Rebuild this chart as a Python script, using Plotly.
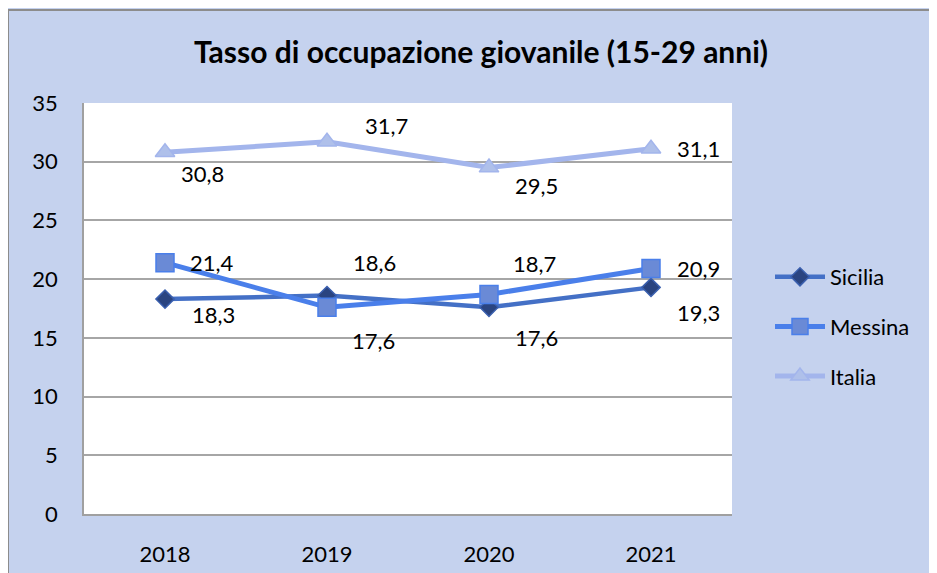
import plotly.graph_objects as go

years = ["2018", "2019", "2020", "2021"]
sicilia = [18.3, 18.6, 17.6, 19.3]
messina = [21.4, 17.6, 18.7, 20.9]
italia = [30.8, 31.7, 29.5, 31.1]
y_ticks = [0, 5, 10, 15, 20, 25, 30, 35]

def fmt(v):
    return f"{v:.1f}".replace(".", ",")

# label offsets in pixels (style)
offsets = {
    "Sicilia": [(48, -15), (47, 33), (47, -30), (47, -25)],
    "Messina": [(47, 0), (46, -33), (45, 31), (47, 0)],
    "Italia": [(37, -21), (59, 16), (47, -18), (47, 0)],
}

BG = "#C5D2EE"
FONT = "Lato"

series = [
    ("Sicilia", sicilia, "#4470C6", 4.5, "diamond", "#2A4480", "#3A5FAE", 14),
    ("Messina", messina, "#4A7FEA", 5, "square", "#6A8AD6", "#4A7FEA", 18),
    ("Italia", italia, "#A3B5EC", 5, "triangle-up", "#AFC0EA", "#A3B5EC", 17),
]

fig = go.Figure()
annotations = []
for i, (name, vals, lc, lw, sym, mfill, mline, msz) in enumerate(series):
    fig.add_trace(go.Scatter(
        x=years, y=vals, name=name, mode="lines+markers",
        line=dict(color=lc, width=lw),
        marker=dict(symbol=sym, size=msz, color=mfill, line=dict(color=mline, width=1.5)),
        legendgroup=name, cliponaxis=False,
    ))
    for j, v in enumerate(vals):
        dx, dy = offsets[name][j]
        annotations.append(dict(
            x=j, y=v, xref="x", yref="y", text=fmt(v), showarrow=False,
            xanchor="center", yanchor="middle",
            xshift=dx, yshift=dy, font=dict(family=FONT, size=22, color="#000000"),
        ))

# page body has an 8px margin; figure coords = screen - 8
L, R, T, B = 76, 213, 95, 67
W, H = 937, 573
pw, ph = W - L - R, H - T - B

shapes = [
    dict(type="rect", xref="paper", yref="paper", layer="above",
         x0=-L / pw, x1=(W + 10 - L) / pw,
         y0=-(B + 10) / ph, y1=(H - B - 2) / ph,
         fillcolor="rgba(0,0,0,0)", line=dict(color="#8C8C8C", width=2)),
]

fig.update_layout(
    width=W, height=H,
    margin=dict(l=L, r=R, t=T, b=B),
    paper_bgcolor=BG, plot_bgcolor="white",
    title=dict(text="<b>Tasso di occupazione giovanile (15-29 anni)</b>",
               x=473 / W, xanchor="center", y=1 - 44 / H, yanchor="middle",
               font=dict(family=FONT, size=30, color="#000000")),
    xaxis=dict(type="category", range=[-0.5, 3.5], showgrid=False,
               showline=True, linecolor="#A0A0A0", linewidth=2,
               ticks="", ticklabelstandoff=20,
               tickfont=dict(family=FONT, size=22, color="#000000")),
    yaxis=dict(range=[0, 35], tickvals=y_ticks, showgrid=True, gridcolor="#A6A6A6",
               gridwidth=2, zeroline=False, showline=True, linecolor="#A0A0A0",
               linewidth=1.5, ticks="", ticklabelstandoff=20,
               tickfont=dict(family=FONT, size=22, color="#000000")),
    legend=dict(x=(762 - L) / pw, xanchor="left", y=(H - B - 248) / ph, yanchor="top",
                bgcolor="rgba(0,0,0,0)", traceorder="grouped", tracegroupgap=18,
                font=dict(family=FONT, size=22, color="#000000"), itemwidth=50),
    annotations=annotations,
    shapes=shapes,
    showlegend=True,
)

fig.write_html("out.html", post_script="document.body.style.overflow='hidden';")
